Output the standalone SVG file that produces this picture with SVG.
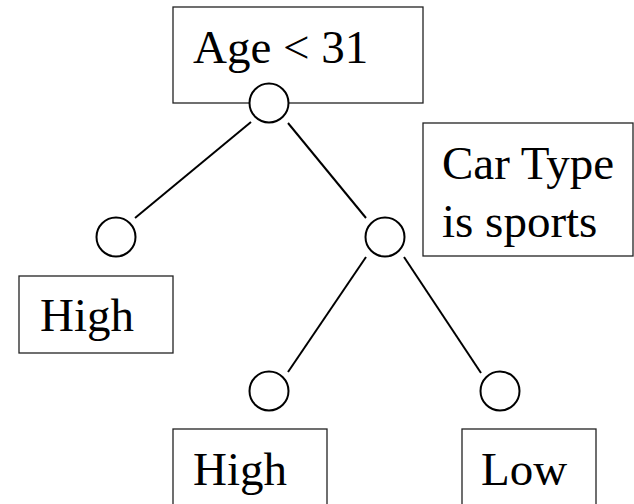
<svg xmlns="http://www.w3.org/2000/svg" width="634" height="504" viewBox="0 0 634 504">
<style>
.box{fill:#fff;stroke:#222;stroke-width:1.3}
.node{fill:#fff;stroke:#000;stroke-width:2}
.edge{stroke:#000;stroke-width:2;fill:none}
.t{font-family:"Liberation Serif","Times New Roman",serif;font-size:47px;fill:#000}
</style>
<rect width="634" height="504" fill="#fff"/>
<g id="label-age"><rect class="box" x="173" y="7" width="250" height="96"/><text class="t" x="193" y="63">Age &lt; 31</text></g>
<g id="label-cartype"><rect class="box" x="423" y="123" width="210" height="133"/><text class="t" x="442" y="179">Car Type</text><text class="t" x="442" y="237">is sports</text></g>
<g id="leaf-high-left"><rect class="box" x="19" y="276" width="154" height="77"/><text class="t" x="40" y="331">High</text></g>
<g id="leaf-high-bottom"><rect class="box" x="173" y="429" width="154" height="90"/><text class="t" x="193" y="485">High</text></g>
<g id="leaf-low"><rect class="box" x="462" y="429" width="134" height="90"/><text class="t" x="481" y="485">Low</text></g>
<g id="connectors">
<line class="edge" x1="251" y1="122" x2="135" y2="218"/>
<line class="edge" x1="288" y1="123" x2="366" y2="218"/>
<line class="edge" x1="366" y1="257" x2="288" y2="372"/>
<line class="edge" x1="404" y1="257" x2="481" y2="373"/>
</g>
<g id="n-root"><circle class="node" cx="269" cy="103" r="19.5"/></g>
<g id="n-left"><circle class="node" cx="116" cy="237" r="19.5"/></g>
<g id="n-right"><circle class="node" cx="385" cy="237" r="19.5"/></g>
<g id="n-rl"><circle class="node" cx="269" cy="391" r="19.5"/></g>
<g id="n-rr"><circle class="node" cx="500" cy="391" r="19.5"/></g>
</svg>
